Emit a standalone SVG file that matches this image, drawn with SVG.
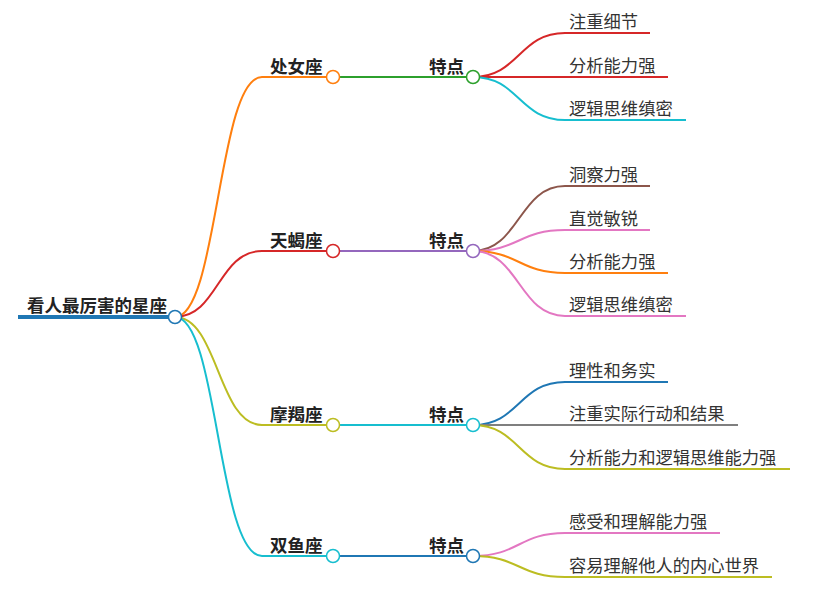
<svg xmlns="http://www.w3.org/2000/svg" width="820" height="590" viewBox="0 0 820 590">
<style>
text{font-family:"Noto Sans CJK SC","Liberation Sans",sans-serif;fill:#333}
.b{font-weight:bold;font-size:17.5px;fill:#222}
.l{font-size:17.3px}
path{fill:none;stroke-width:2}
circle{fill:#fff;stroke-width:1.5}
</style>
<rect width="820" height="590" fill="#fff"/>
<g id="connectors">
<path d="M175 317 C218 317 218 77 262 77 H333" stroke="#ff7f0e"/>
<path d="M175 317 C218 317 218 251 262 251 H333" stroke="#d62728"/>
<path d="M175 317 C218 317 218 425 262 425 H333" stroke="#bcbd22"/>
<path d="M175 317 C218 317 218 556 262 556 H333" stroke="#17becf"/>
<path d="M333 77 H473" stroke="#2ca02c"/>
<path d="M333 251 H473" stroke="#9467bd"/>
<path d="M333 425 H473" stroke="#17becf"/>
<path d="M333 556 H473" stroke="#1f77b4"/>
<path d="M473 77 C519 77 519 33 565 33 H650" stroke="#d62728"/>
<path d="M473 77 H668" stroke="#d62728"/>
<path d="M473 77 C519 77 519 120 565 120 H686" stroke="#17becf"/>
<path d="M473 251 C519 251 519 186 565 186 H650" stroke="#8c564b"/>
<path d="M473 251 C519 251 519 230 565 230 H650" stroke="#e377c2"/>
<path d="M473 251 C519 251 519 273 565 273 H668" stroke="#ff7f0e"/>
<path d="M473 251 C519 251 519 316 565 316 H686" stroke="#e377c2"/>
<path d="M473 425 C519 425 519 382 565 382 H668" stroke="#1f77b4"/>
<path d="M473 425 H738" stroke="#7f7f7f"/>
<path d="M473 425 C519 425 519 469 565 469 H790" stroke="#bcbd22"/>
<path d="M473 556 C519 556 519 533 565 533 H720" stroke="#e377c2"/>
<path d="M473 556 C519 556 519 577 565 577 H772" stroke="#bcbd22"/>
</g>
<g id="root"><path d="M18 317 H175" stroke="#1f77b4" style="stroke-width:4"/><text x="27" y="312" class="b">看人最厉害的星座</text><circle cx="175" cy="317" r="6.5" stroke="#1f77b4"/></g>
<g id="n1"><text x="270" y="73" class="b">处女座</text><circle cx="333" cy="77" r="6.5" stroke="#ff7f0e"/></g>
<g id="n2"><text x="270" y="247" class="b">天蝎座</text><circle cx="333" cy="251" r="6.5" stroke="#d62728"/></g>
<g id="n3"><text x="270" y="421" class="b">摩羯座</text><circle cx="333" cy="425" r="6.5" stroke="#bcbd22"/></g>
<g id="n4"><text x="270" y="552" class="b">双鱼座</text><circle cx="333" cy="556" r="6.5" stroke="#17becf"/></g>
<g id="t1"><text x="429" y="73" class="b">特点</text><circle cx="473" cy="77" r="6.5" stroke="#2ca02c"/></g>
<g id="t2"><text x="429" y="247" class="b">特点</text><circle cx="473" cy="251" r="6.5" stroke="#9467bd"/></g>
<g id="t3"><text x="429" y="421" class="b">特点</text><circle cx="473" cy="425" r="6.5" stroke="#17becf"/></g>
<g id="t4"><text x="429" y="552" class="b">特点</text><circle cx="473" cy="556" r="6.5" stroke="#1f77b4"/></g>
<g id="leaves">
<text x="569" y="28" class="l">注重细节</text>
<text x="569" y="72" class="l">分析能力强</text>
<text x="569" y="115" class="l">逻辑思维缜密</text>
<text x="569" y="181" class="l">洞察力强</text>
<text x="569" y="225" class="l">直觉敏锐</text>
<text x="569" y="268" class="l">分析能力强</text>
<text x="569" y="311" class="l">逻辑思维缜密</text>
<text x="569" y="377" class="l">理性和务实</text>
<text x="569" y="420" class="l">注重实际行动和结果</text>
<text x="569" y="464" class="l">分析能力和逻辑思维能力强</text>
<text x="569" y="528" class="l">感受和理解能力强</text>
<text x="569" y="572" class="l">容易理解他人的内心世界</text>
</g>
</svg>
